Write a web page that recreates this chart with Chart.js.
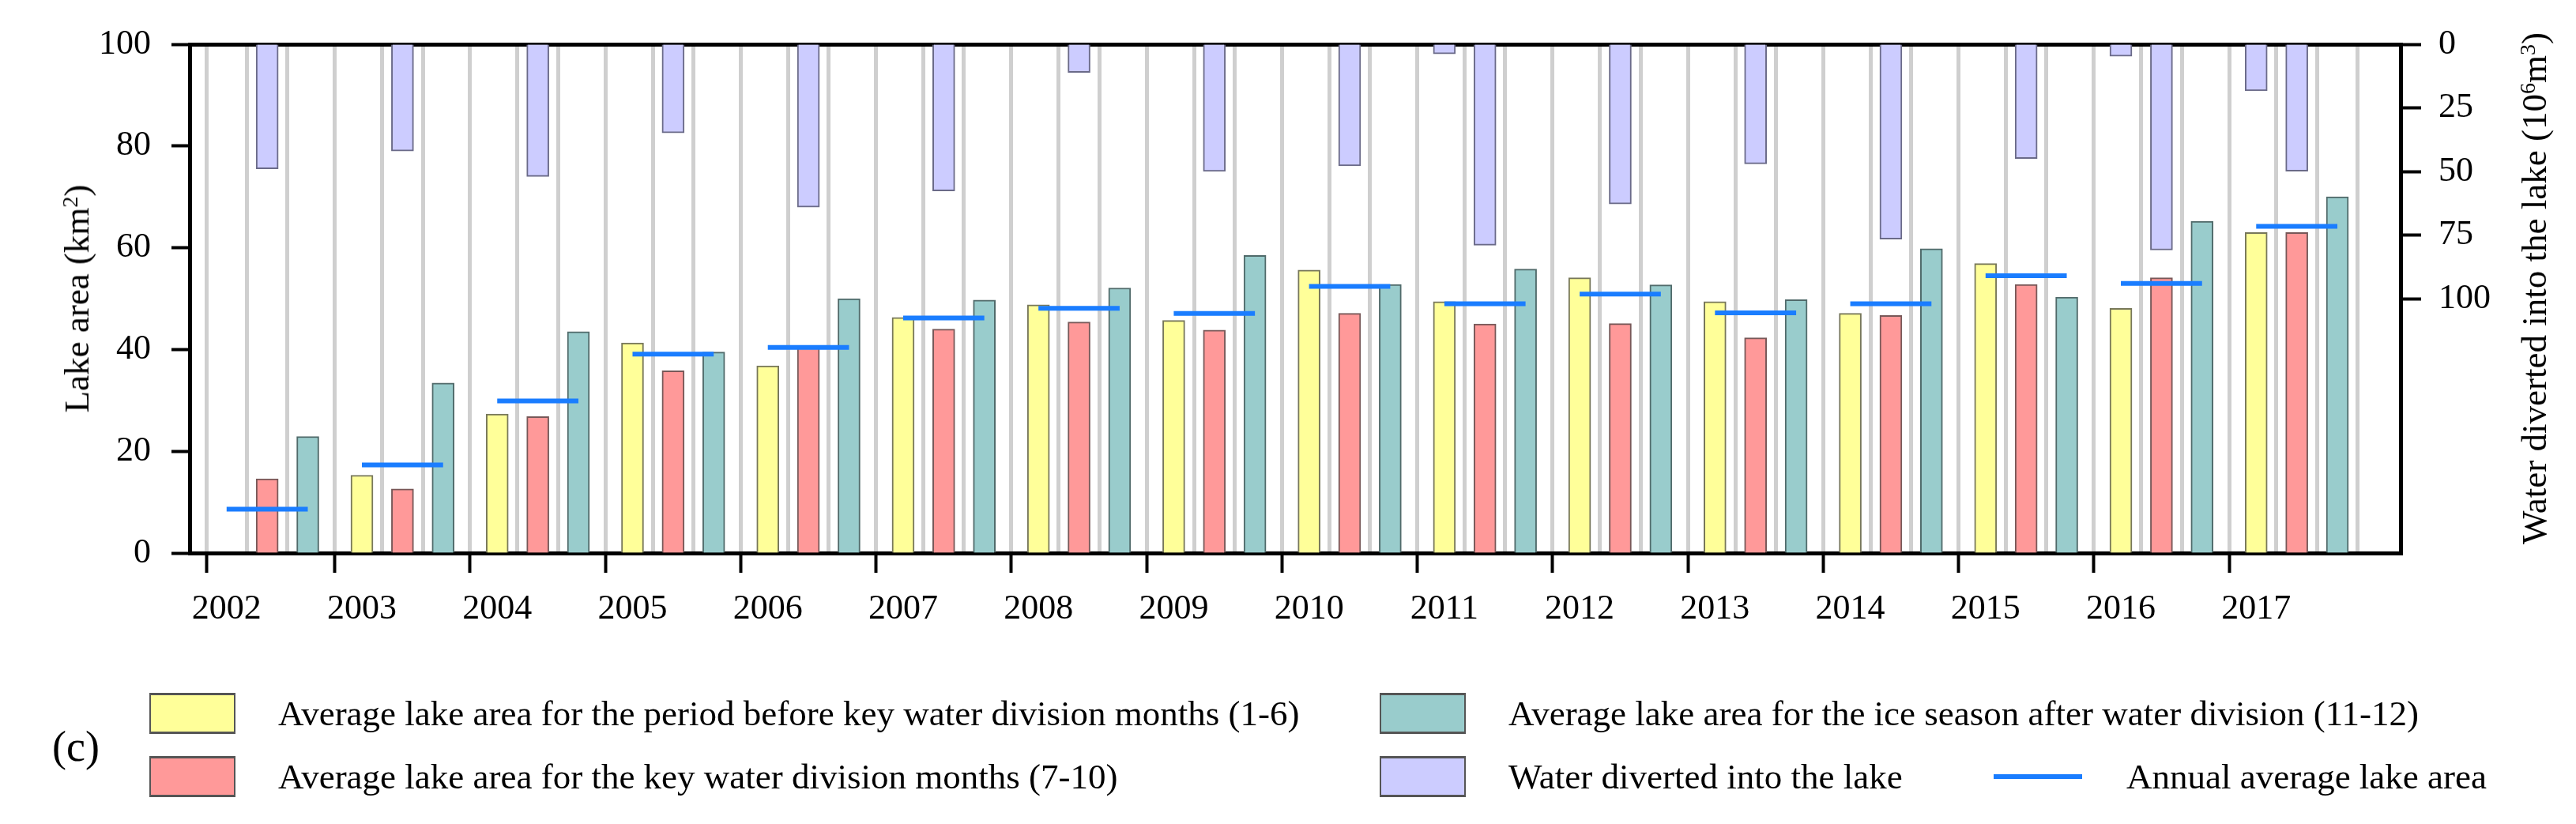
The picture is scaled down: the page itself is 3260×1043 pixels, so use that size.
<!DOCTYPE html>
<html lang="en">
<head>
<meta charset="UTF-8">
<title>Lake area and water diverted into the lake</title>
<script src="https://cdn.jsdelivr.net/npm/chart.js"></script>
<style>
    body {
        margin: 0;
        background: #fff;
        font-family: "Liberation Serif", "Times New Roman", serif;
        color: #000;
    }

    .wrap {
        position: relative;
        width: 3260px;
        height: 1043px;
    }

    .axis-title {
        position: absolute;
        font-size: 45px;
        white-space: nowrap;
        transform: translate(-50%, -50%) rotate(-90deg);
    }

    .panel-tag {
        position: absolute;
        left: 66px;
        top: 914px;
        font-size: 54px;
    }

    .legend-item {
        position: absolute;
        height: 60px;
        display: flex;
        align-items: center;
        font-size: 45px;
        white-space: nowrap;
    }

    .swatch {
        width: 105px;
        height: 46px;
        border: 2px solid #555;
        border-top-width: 3px;
        border-bottom-width: 3px;
        margin-right: 54px;
    }

    .dash {
        width: 112px;
        height: 6px;
        background: #1a7dff;
        margin-right: 56px;
    }
</style>
</head>
<body>
<div class="wrap">
    <canvas id="lakeChart" width="3260" height="1043"></canvas>

    <div class="axis-title" style="left:97px; top:378px;">Lake area (km<sup style="font-size:28px; vertical-align:14px;">2</sup>)</div>
    <div class="axis-title" style="left:3207px; top:365px;">Water diverted into the lake (10<sup style="font-size:28px; vertical-align:14px;">6</sup>m<sup style="font-size:28px; vertical-align:14px;">3</sup>)</div>

    <div class="panel-tag">(c)</div>

    <div class="legend-item" style="left:189px; top:873px;"><div class="swatch" style="background:#ffff99;"></div>Average lake area for the period before key water division months (1-6)</div>
    <div class="legend-item" style="left:189px; top:953px;"><div class="swatch" style="background:#ff9999;"></div>Average lake area for the key water division months (7-10)</div>
    <div class="legend-item" style="left:1746px; top:873px;"><div class="swatch" style="background:#99cccc;"></div>Average lake area for the ice season after water division (11-12)</div>
    <div class="legend-item" style="left:1746px; top:953px;"><div class="swatch" style="background:#ccccff;"></div>Water diverted into the lake</div>
    <div class="legend-item" style="left:2523px; top:953px;"><div class="dash"></div>Annual average lake area</div>
</div>

<script>
    // values
    const years = [2002, 2003, 2004, 2005, 2006, 2007, 2008, 2009, 2010, 2011, 2012, 2013, 2014, 2015, 2016, 2017];
    const beforeArea = [null, 15.3, 27.3, 41.3, 36.8, 46.3, 48.8, 45.7, 55.6, 49.4, 54.1, 49.4, 47.1, 56.9, 48.1, 63.0];
    const keyArea = [14.6, 12.6, 26.8, 35.8, 40.7, 44.0, 45.4, 43.8, 47.1, 45.0, 45.1, 42.3, 46.7, 52.8, 54.1, 63.0];
    const iceArea = [22.9, 33.4, 43.5, 39.5, 50.0, 49.7, 52.1, 58.5, 52.8, 55.8, 52.7, 49.8, 59.8, 50.3, 65.2, 70.0];
    const annualArea = [8.6, 17.3, 29.9, 39.1, 40.4, 46.2, 48.1, 47.1, 52.4, 49.0, 50.9, 47.2, 49.0, 54.5, 53.0, 64.2];
    const waterBefore = [null, null, null, null, null, null, null, null, null, 3.8, null, null, null, null, 4.7, 18.3];
    const waterKey = [49.0, 42.0, 52.0, 34.8, 64.0, 57.7, 11.1, 50.0, 47.8, 79.0, 62.8, 47.0, 76.6, 44.9, 80.9, 49.9];
    const areaTicks = [0, 20, 40, 60, 80, 100];
    const waterTicks = [0, 25, 50, 75, 100];

    // bar slots inside one year group: before / key / ice
    const slot = [0, 0.3, 0.6];
    const isYear = v => Math.abs(v - Math.round(v)) < 0.01;
    const pts = (arr, off) => years.map((yr, i) => ({ x: yr + off, y: arr[i] }));

    const annualPts = [];
    years.forEach((yr, i) => {
        annualPts.push({ x: yr, y: annualArea[i] }, { x: yr + slot[2], y: annualArea[i] }, { x: yr + 0.8, y: null });
    });

    const waterPts = pts(waterBefore, slot[0]).concat(pts(waterKey, slot[1])).sort((a, b) => a.x - b.x);

    Chart.defaults.font.family = '"Liberation Serif", "Times New Roman", serif';
    Chart.defaults.color = '#000';

    const barBase = { type: 'bar', grouped: false, barThickness: 28, borderWidth: 2, order: 1 };

    new Chart(document.getElementById('lakeChart'), {
        type: 'bar',
        data: {
            datasets: [
                { ...barBase, label: 'Average lake area for the period before key water division months (1-6)',
                  data: pts(beforeArea, slot[0]), backgroundColor: '#ffff99', borderColor: '#77775a', yAxisID: 'y' },
                { ...barBase, label: 'Average lake area for the key water division months (7-10)',
                  data: pts(keyArea, slot[1]), backgroundColor: '#ff9999', borderColor: '#775858', yAxisID: 'y' },
                { ...barBase, label: 'Average lake area for the ice season after water division (11-12)',
                  data: pts(iceArea, slot[2]), backgroundColor: '#99cccc', borderColor: '#506a6a', yAxisID: 'y' },
                { ...barBase, label: 'Water diverted into the lake',
                  data: waterPts, backgroundColor: '#ccccff', borderColor: '#6a6a88', yAxisID: 'yR' },
                { type: 'line', label: 'Annual average lake area', data: annualPts,
                  borderColor: '#1a7dff', borderWidth: 6, pointRadius: 0, spanGaps: false,
                  borderCapStyle: 'butt', yAxisID: 'y', order: 0 }
            ]
        },
        options: {
            responsive: false,
            devicePixelRatio: 1,
            animation: false,
            layout: { padding: { top: 0, left: 0, right: 0, bottom: 243 } },
            plugins: { legend: { display: false }, tooltip: { enabled: false } },
            scales: {
                x: {
                    type: 'linear',
                    position: 'bottom',
                    min: 2001.897,
                    max: 2017.897,
                    afterBuildTicks: s => { s.ticks = years.flatMap(yr => slot.map(o => ({ value: yr + o }))); },
                    afterFit: s => { s.height = 100; },
                    grid: {
                        color: '#cfcfcf',
                        lineWidth: 5,
                        tickLength: 25,
                        tickWidth: 4,
                        tickColor: c => (c.tick && isYear(c.tick.value)) ? '#000' : 'rgba(0,0,0,0)'
                    },
                    border: { color: '#000', width: 5 },
                    ticks: {
                        autoSkip: false,
                        maxRotation: 0,
                        padding: 20,
                        font: { size: 44 },
                        callback: v => isYear(v) ? String(Math.round(v)) : ''
                    }
                },
                xTop: {
                    type: 'linear',
                    position: 'top',
                    min: 0,
                    max: 1,
                    grid: { drawOnChartArea: false, drawTicks: false },
                    ticks: { display: false },
                    border: { color: '#000', width: 5 },
                    afterFit: s => { s.height = 56; }
                },
                y: {
                    position: 'left',
                    min: 0,
                    max: 100,
                    afterBuildTicks: s => { s.ticks = areaTicks.map(v => ({ value: v })); },
                    afterFit: s => { s.width = 240; },
                    grid: { drawOnChartArea: false, tickLength: 23, tickWidth: 4, tickColor: '#000' },
                    border: { color: '#000', width: 5 },
                    ticks: { padding: 26, font: { size: 44 } }
                },
                yR: {
                    position: 'right',
                    reverse: true,
                    min: 0,
                    max: 200,
                    afterBuildTicks: s => { s.ticks = waterTicks.map(v => ({ value: v })); },
                    afterFit: s => { s.width = 222; },
                    grid: { drawOnChartArea: false, tickLength: 26, tickWidth: 4, tickColor: '#000' },
                    border: { color: '#000', width: 5 },
                    ticks: { padding: 22, font: { size: 44 } }
                }
            }
        }
    });
</script>
</body>
</html>
